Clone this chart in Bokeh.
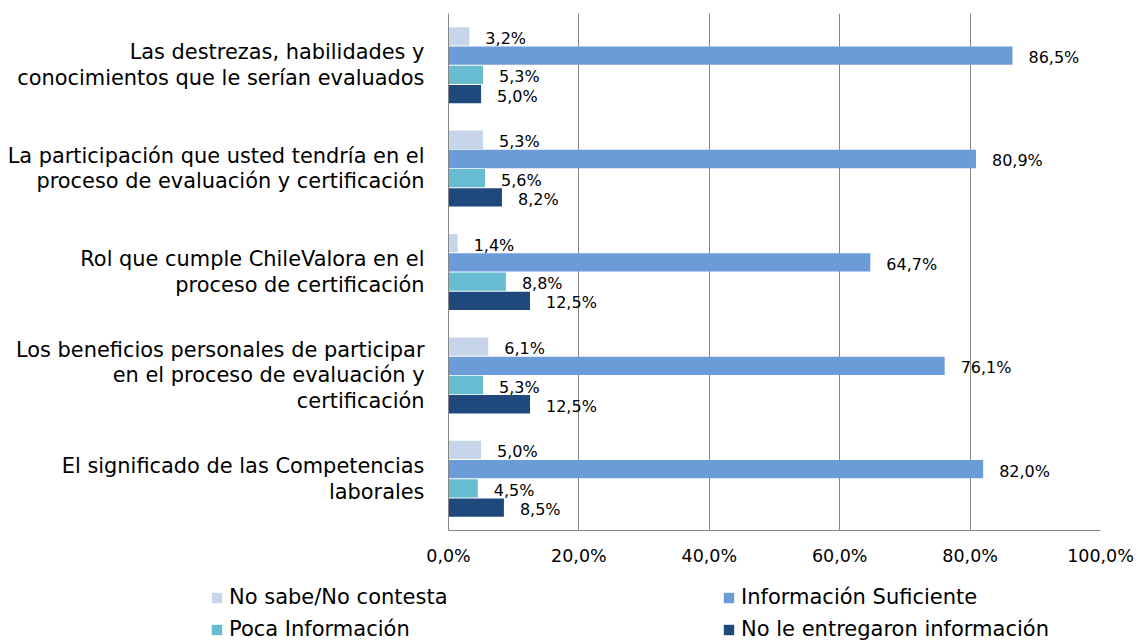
from bokeh.plotting import figure
from bokeh.layouts import column
from bokeh.models import Range1d, FixedTicker, Legend, LegendItem, ColumnDataSource
from bokeh.core.properties import value
from bokeh.embed import file_html
from bokeh.resources import INLINE

# ---------------- data ----------------
categories = [
    "Las destrezas, habilidades y\nconocimientos que le serían evaluados",
    "La participación que usted tendría en el\nproceso de evaluación y certificación",
    "Rol que cumple ChileValora en el\nproceso de certificación",
    "Los beneficios personales de participar\nen el proceso de evaluación y\ncertificación",
    "El significado de las Competencias\nlaborales",
]
series_names = ["No sabe/No contesta", "Información Suficiente",
                "Poca Información", "No le entregaron información"]
no_sabe = [3.2, 5.3, 1.4, 6.1, 5.0]
info_suficiente = [86.5, 80.9, 64.7, 76.1, 82.0]
poca_info = [5.3, 5.6, 8.8, 5.3, 4.5]
no_entregaron = [5.0, 8.2, 12.5, 12.5, 8.5]
x_ticks = [0, 20, 40, 60, 80, 100]
x_tick_labels = ["0,0%", "20,0%", "40,0%", "60,0%", "80,0%", "100,0%"]

series_values = [no_sabe, info_suficiente, poca_info, no_entregaron]
colors = ["#c6d5ea", "#6c9cd7", "#68bcd1", "#1f497d"]

FONT = "DejaVu Sans"
GRID = "#868686"
W, H_MAIN, H_LEG = 1137, 575, 66

n_cat = len(categories)
centers = [n_cat - 0.5 - i for i in range(n_cat)]
bar_pitch = 0.186
bar_h = 0.177
offsets = [1.5 * bar_pitch, 0.5 * bar_pitch, -0.5 * bar_pitch, -1.5 * bar_pitch]

p = figure(width=W, height=H_MAIN, x_range=Range1d(0, 100), y_range=Range1d(0, n_cat),
           output_backend="svg", toolbar_location=None,
           min_border_left=448, min_border_right=37, min_border_top=13, min_border_bottom=45)
p.frame_align = False
p.outline_line_color = None
p.background_fill_color = "white"
p.border_fill_color = "white"
p.ygrid.visible = False

p.xgrid.ticker = FixedTicker(ticks=x_ticks)
p.xgrid.grid_line_color = GRID
p.xgrid.grid_line_width = 1

xa = p.xaxis[0]
xa.ticker = FixedTicker(ticks=x_ticks)
xa.major_label_overrides = {t: l for t, l in zip(x_ticks, x_tick_labels)}
xa.major_tick_line_color = None
xa.minor_tick_line_color = None
xa.axis_line_color = GRID
xa.major_label_text_font = FONT
xa.major_label_text_font_size = "17.5px"
xa.major_label_text_color = "black"
xa.major_label_standoff = 9

ya = p.yaxis[0]
ya.ticker = FixedTicker(ticks=centers)
ya.major_label_overrides = {c: t for c, t in zip(centers, categories)}
ya.major_tick_line_color = None
ya.minor_tick_line_color = None
ya.axis_line_color = GRID
ya.major_label_text_font = FONT
ya.major_label_text_font_size = "20.9px"
ya.major_label_text_color = "black"
ya.major_label_text_align = "right"
ya.major_label_text_line_height = 1.07
ya.major_label_standoff = 18

for vals, off, col in zip(series_values, offsets, colors):
    src = ColumnDataSource(dict(
        y=[c + off for c in centers],
        right=vals,
        label=[("%.1f" % v).replace(".", ",") + "%" for v in vals],
    ))
    p.hbar(y="y", left=0, right="right", height=bar_h, source=src,
           fill_color=col, line_color=None)
    p.text(x="right", y="y", text="label", source=src, x_offset=16, y_offset=2,
           text_align="left", text_baseline="middle",
           text_font=value(FONT), text_font_size="16px", text_color="black")

# ---------------- legend strip ----------------
lf = figure(width=W, height=H_LEG, x_range=Range1d(0, 1), y_range=Range1d(0, 1),
            output_backend="svg", toolbar_location=None,
            min_border_left=0, min_border_right=0, min_border_top=0, min_border_bottom=0)
lf.frame_align = False
lf.axis.visible = False
lf.grid.visible = False
lf.outline_line_color = None
lf.border_fill_color = "white"

# swatch renderers for the legend (kept outside the visible range)
dummy = [lf.hbar(y=[-10], right=[1], left=0, height=0.1, fill_color=c, line_color=None)
         for c in colors]

leg_common = dict(orientation="vertical", padding=0, margin=0, spacing=8,
                  border_line_color=None, background_fill_alpha=0,
                  label_text_font=FONT, label_text_font_size="21px",
                  label_text_color="black", glyph_width=13, glyph_height=13,
                  label_height=24, label_standoff=6)
leg1 = Legend(items=[LegendItem(label=series_names[0], renderers=[dummy[0]]),
                     LegendItem(label=series_names[2], renderers=[dummy[2]])],
              location=(210, 0), **leg_common)
leg2 = Legend(items=[LegendItem(label=series_names[1], renderers=[dummy[1]]),
                     LegendItem(label=series_names[3], renderers=[dummy[3]])],
              location=(722, 0), **leg_common)
lf.add_layout(leg1, "center")
lf.add_layout(leg2, "center")

layout = column(p, lf, spacing=0)
open("out.html", "w").write(file_html(layout, INLINE))
